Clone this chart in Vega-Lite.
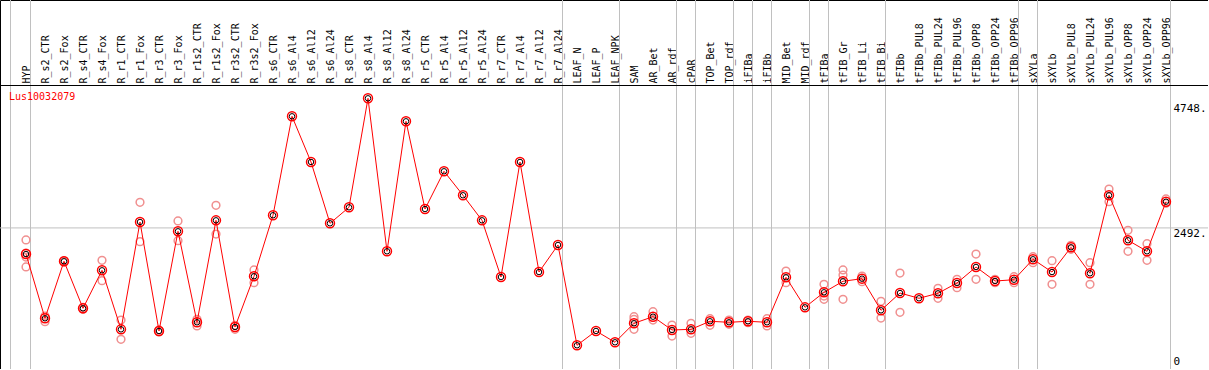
{
  "$schema": "https://vega.github.io/schema/vega-lite/v6.json",
  "width": 1208,
  "height": 369,
  "autosize": {"type": "none"},
  "padding": 0,
  "background": "white",
  "config": {"view": {"stroke": "black", "strokeWidth": 1}},
  "title": {"text": "Lus10032079", "anchor": "start", "frame": "group", "orient": "top", "offset": -102, "dx": 9, "color": "#ff0000", "font": "DejaVu Sans Mono", "fontSize": 10, "fontWeight": "normal"},
  "datasets": {
    "means": [
      {"cat": "HYP", "value": 2021}, {"cat": "R_s2_CTR", "value": 861}, {"cat": "R_s2_Fox", "value": 1890}, {"cat": "R_s4_CTR", "value": 1041}, {"cat": "R_s4_Fox", "value": 1727}, {"cat": "R_r1_CTR", "value": 662}, {"cat": "R_r1_Fox", "value": 2599}, {"cat": "R_r3_CTR", "value": 632}, {"cat": "R_r3_Fox", "value": 2431}, {"cat": "R_r1s2_CTR", "value": 789}, {"cat": "R_r1s2_Fox", "value": 2629}, {"cat": "R_r3s2_CTR", "value": 704}, {"cat": "R_r3s2_Fox", "value": 1619}, {"cat": "R_s6_CTR", "value": 2720}, {"cat": "R_s6_Al4", "value": 4506}, {"cat": "R_s6_Al12", "value": 3682}, {"cat": "R_s6_Al24", "value": 2575}, {"cat": "R_s8_CTR", "value": 2864}, {"cat": "R_s8_Al4", "value": 4831}, {"cat": "R_s8_Al12", "value": 2070}, {"cat": "R_s8_Al24", "value": 4416}, {"cat": "R_r5_CTR", "value": 2833}, {"cat": "R_r5_Al4", "value": 3514}, {"cat": "R_r5_Al12", "value": 3081}, {"cat": "R_r5_Al24", "value": 2629}, {"cat": "R_r7_CTR", "value": 1606}, {"cat": "R_r7_Al4", "value": 3682}, {"cat": "R_r7_Al12", "value": 1696}, {"cat": "R_r7_Al24", "value": 2184}, {"cat": "LEAF_N", "value": 374}, {"cat": "LEAF_P", "value": 632}, {"cat": "LEAF_NPK", "value": 428}, {"cat": "SAM", "value": 771}, {"cat": "AR_Bet", "value": 890}, {"cat": "AR_rdf", "value": 650}, {"cat": "cPAR", "value": 662}, {"cat": "TOP_Bet", "value": 807}, {"cat": "TOP_rdf", "value": 789}, {"cat": "iFIBa", "value": 807}, {"cat": "iFIBb", "value": 789}, {"cat": "MID_Bet", "value": 1601}, {"cat": "MID_rdf", "value": 1059}, {"cat": "tFIBa", "value": 1330}, {"cat": "tFIB_Gr", "value": 1529}, {"cat": "tFIB_Li", "value": 1576}, {"cat": "tFIB_Bi", "value": 1005}, {"cat": "tFIBb", "value": 1317}, {"cat": "tFIBb_PUL8", "value": 1222}, {"cat": "tFIBb_PUL24", "value": 1312}, {"cat": "tFIBb_PUL96", "value": 1498}, {"cat": "tFIBb_OPP8", "value": 1787}, {"cat": "tFIBb_OPP24", "value": 1534}, {"cat": "tFIBb_OPP96", "value": 1557}, {"cat": "sXYLa", "value": 1926}, {"cat": "sXYLb", "value": 1696}, {"cat": "sXYLb_PUL8", "value": 2142}, {"cat": "sXYLb_PUL24", "value": 1673}, {"cat": "sXYLb_PUL96", "value": 3081}, {"cat": "sXYLb_OPP8", "value": 2269}, {"cat": "sXYLb_OPP24", "value": 2070}, {"cat": "sXYLb_OPP96", "value": 2965}
    ],
    "reps": [
      {"cat": "HYP", "value": 2274}, {"cat": "HYP", "value": 2039}, {"cat": "HYP", "value": 1967}, {"cat": "HYP", "value": 1787},
      {"cat": "R_s2_CTR", "value": 902}, {"cat": "R_s2_CTR", "value": 800},
      {"cat": "R_s2_Fox", "value": 1900}, {"cat": "R_s2_Fox", "value": 1877},
      {"cat": "R_s4_CTR", "value": 1059}, {"cat": "R_s4_CTR", "value": 1023},
      {"cat": "R_s4_Fox", "value": 1908}, {"cat": "R_s4_Fox", "value": 1539},
      {"cat": "R_r1_CTR", "value": 830}, {"cat": "R_r1_CTR", "value": 482},
      {"cat": "R_r1_Fox", "value": 2954}, {"cat": "R_r1_Fox", "value": 2243},
      {"cat": "R_r3_CTR", "value": 650}, {"cat": "R_r3_CTR", "value": 614},
      {"cat": "R_r3_Fox", "value": 2617}, {"cat": "R_r3_Fox", "value": 2261},
      {"cat": "R_r1s2_CTR", "value": 843}, {"cat": "R_r1s2_CTR", "value": 722},
      {"cat": "R_r1s2_Fox", "value": 2900}, {"cat": "R_r1s2_Fox", "value": 2382},
      {"cat": "R_r3s2_CTR", "value": 735}, {"cat": "R_r3s2_CTR", "value": 662},
      {"cat": "R_r3s2_Fox", "value": 1733}, {"cat": "R_r3s2_Fox", "value": 1503},
      {"cat": "SAM", "value": 890}, {"cat": "SAM", "value": 843}, {"cat": "SAM", "value": 662},
      {"cat": "AR_Bet", "value": 980}, {"cat": "AR_Bet", "value": 830},
      {"cat": "AR_rdf", "value": 740}, {"cat": "AR_rdf", "value": 541},
      {"cat": "cPAR", "value": 771}, {"cat": "cPAR", "value": 590},
      {"cat": "TOP_Bet", "value": 854}, {"cat": "TOP_Bet", "value": 735},
      {"cat": "TOP_rdf", "value": 830}, {"cat": "TOP_rdf", "value": 753},
      {"cat": "iFIBa", "value": 830}, {"cat": "iFIBa", "value": 781},
      {"cat": "iFIBb", "value": 854}, {"cat": "iFIBb", "value": 722},
      {"cat": "MID_Bet", "value": 1714}, {"cat": "MID_Bet", "value": 1503},
      {"cat": "tFIBa", "value": 1474}, {"cat": "tFIBa", "value": 1263}, {"cat": "tFIBa", "value": 1204},
      {"cat": "tFIB_Gr", "value": 1733}, {"cat": "tFIB_Gr", "value": 1642}, {"cat": "tFIB_Gr", "value": 1204},
      {"cat": "tFIB_Li", "value": 1624}, {"cat": "tFIB_Li", "value": 1521},
      {"cat": "tFIB_Bi", "value": 1168}, {"cat": "tFIB_Bi", "value": 866},
      {"cat": "tFIBb", "value": 1678}, {"cat": "tFIBb", "value": 969},
      {"cat": "tFIBb_PUL24", "value": 1402}, {"cat": "tFIBb_PUL24", "value": 1222},
      {"cat": "tFIBb_PUL96", "value": 1565}, {"cat": "tFIBb_PUL96", "value": 1413},
      {"cat": "tFIBb_OPP8", "value": 2021}, {"cat": "tFIBb_OPP8", "value": 1565},
      {"cat": "tFIBb_OPP24", "value": 1565}, {"cat": "tFIBb_OPP24", "value": 1503},
      {"cat": "tFIBb_OPP96", "value": 1612}, {"cat": "tFIBb_OPP96", "value": 1503},
      {"cat": "sXYLa", "value": 1973}, {"cat": "sXYLa", "value": 1864},
      {"cat": "sXYLb", "value": 1900}, {"cat": "sXYLb", "value": 1474},
      {"cat": "sXYLb_PUL8", "value": 2178}, {"cat": "sXYLb_PUL8", "value": 2106},
      {"cat": "sXYLb_PUL24", "value": 1864}, {"cat": "sXYLb_PUL24", "value": 1474},
      {"cat": "sXYLb_PUL96", "value": 3194}, {"cat": "sXYLb_PUL96", "value": 2965},
      {"cat": "sXYLb_OPP8", "value": 2449}, {"cat": "sXYLb_OPP8", "value": 2070},
      {"cat": "sXYLb_OPP24", "value": 2207}, {"cat": "sXYLb_OPP24", "value": 1908},
      {"cat": "sXYLb_OPP96", "value": 3014}, {"cat": "sXYLb_OPP96", "value": 2936}
    ],
    "groupEnds": [
      {"cat": "HYP"}, {"cat": "R_r7_Al24"}, {"cat": "LEAF_NPK"}, {"cat": "AR_rdf"}, {"cat": "cPAR"}, {"cat": "TOP_rdf"}, {"cat": "iFIBa"}, {"cat": "iFIBb"}, {"cat": "MID_rdf"}, {"cat": "tFIBa"}, {"cat": "tFIB_Bi"}, {"cat": "tFIBb_OPP96"}, {"cat": "sXYLa"}, {"cat": "sXYLb_OPP96"}
    ],
    "groupStart": [{"cat": "HYP"}],
    "hgrid": [{"value": 2492}],
    "one": [{}]
  },
  "layer": [
    {
      "data": {"name": "groupEnds"},
      "mark": {"type": "rule", "color": "#c0c0c0", "strokeWidth": 1, "xOffset": 4.5},
      "encoding": {
        "x": {"field": "cat", "type": "nominal", "sort": null,
          "scale": {"type": "point", "padding": 0, "range": [26, 1166],
            "domain": ["HYP", "R_s2_CTR", "R_s2_Fox", "R_s4_CTR", "R_s4_Fox", "R_r1_CTR", "R_r1_Fox", "R_r3_CTR", "R_r3_Fox", "R_r1s2_CTR", "R_r1s2_Fox", "R_r3s2_CTR", "R_r3s2_Fox", "R_s6_CTR", "R_s6_Al4", "R_s6_Al12", "R_s6_Al24", "R_s8_CTR", "R_s8_Al4", "R_s8_Al12", "R_s8_Al24", "R_r5_CTR", "R_r5_Al4", "R_r5_Al12", "R_r5_Al24", "R_r7_CTR", "R_r7_Al4", "R_r7_Al12", "R_r7_Al24", "LEAF_N", "LEAF_P", "LEAF_NPK", "SAM", "AR_Bet", "AR_rdf", "cPAR", "TOP_Bet", "TOP_rdf", "iFIBa", "iFIBb", "MID_Bet", "MID_rdf", "tFIBa", "tFIB_Gr", "tFIB_Li", "tFIB_Bi", "tFIBb", "tFIBb_PUL8", "tFIBb_PUL24", "tFIBb_PUL96", "tFIBb_OPP8", "tFIBb_OPP24", "tFIBb_OPP96", "sXYLa", "sXYLb", "sXYLb_PUL8", "sXYLb_PUL24", "sXYLb_PUL96", "sXYLb_OPP8", "sXYLb_OPP24", "sXYLb_OPP96"]},
          "axis": {"orient": "top", "offset": -85, "labelAngle": 270, "labelPadding": 2, "ticks": false, "domain": false, "grid": false, "title": null, "labelFont": "DejaVu Sans Mono", "labelFontSize": 10, "labelColor": "black", "labelOverlap": false}}
      }
    },
    {
      "data": {"name": "groupStart"},
      "mark": {"type": "rule", "color": "#c0c0c0", "strokeWidth": 1, "xOffset": -15.5},
      "encoding": {
        "x": {"field": "cat", "type": "nominal", "sort": null}
      }
    },
    {
      "data": {"name": "hgrid"},
      "mark": {"type": "rule", "color": "#c0c0c0", "strokeWidth": 1},
      "encoding": {
        "y": {"field": "value", "type": "quantitative",
          "scale": {"domain": [-54, 6605], "nice": false, "zero": false},
          "axis": {"orient": "right", "offset": -38, "values": [0, 2492, 4748], "labelExpr": "datum.value == 0 ? '0' : datum.value + '.'", "ticks": false, "domain": false, "grid": false, "title": null, "labelPadding": 3, "labelAlign": "left", "labelBaseline": {"condition": {"test": "datum.value == 0", "value": "bottom"}, "value": "top"}, "labelFont": "DejaVu Sans Mono", "labelFontSize": 11, "labelColor": "black"}}
      }
    },
    {
      "data": {"name": "one"},
      "mark": {"type": "rule", "color": "#000000", "strokeWidth": 1},
      "encoding": {
        "y": {"datum": 5062, "type": "quantitative"}
      }
    },
    {
      "data": {"name": "reps"},
      "mark": {"type": "point", "shape": "circle", "filled": false, "color": "#f09090", "strokeWidth": 1.5, "size": 60, "opacity": 1},
      "encoding": {
        "x": {"field": "cat", "type": "nominal", "sort": null},
        "y": {"field": "value", "type": "quantitative"}
      }
    },
    {
      "data": {"name": "means"},
      "mark": {"type": "line", "color": "#ff0000", "strokeWidth": 1},
      "encoding": {
        "x": {"field": "cat", "type": "nominal", "sort": null},
        "y": {"field": "value", "type": "quantitative"}
      }
    },
    {
      "data": {"name": "means"},
      "mark": {"type": "point", "shape": "circle", "filled": false, "color": "#000000", "strokeWidth": 1, "size": 30, "opacity": 1},
      "encoding": {
        "x": {"field": "cat", "type": "nominal", "sort": null},
        "y": {"field": "value", "type": "quantitative"}
      }
    },
    {
      "data": {"name": "means"},
      "mark": {"type": "point", "shape": "circle", "filled": false, "color": "#ff0000", "strokeWidth": 1.5, "size": 80, "opacity": 1},
      "encoding": {
        "x": {"field": "cat", "type": "nominal", "sort": null},
        "y": {"field": "value", "type": "quantitative"}
      }
    }
  ]
}
